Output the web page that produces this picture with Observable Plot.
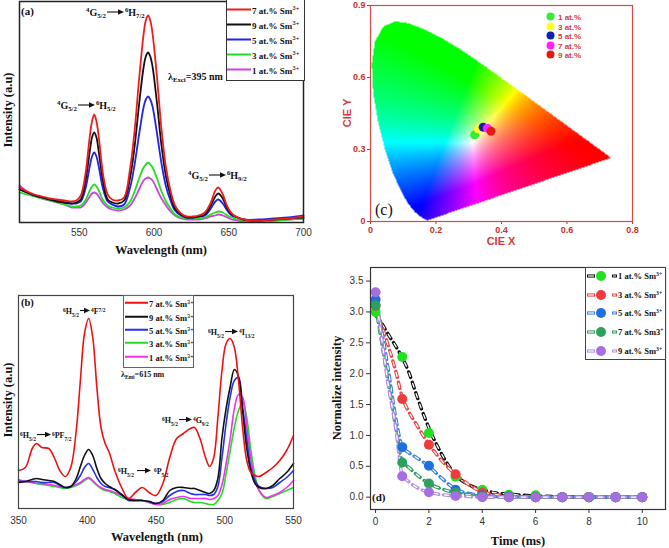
<!DOCTYPE html>
<html><head><meta charset="utf-8">
<script src="https://cdn.jsdelivr.net/npm/d3@7"></script>
<script src="https://cdn.jsdelivr.net/npm/@observablehq/plot@0.6"></script>
<style>
body{margin:0;background:#fff}
#root{position:relative;width:669px;height:548px;overflow:hidden;background:#fff}
.t{position:absolute;white-space:nowrap;transform:translateY(-50%);line-height:1;font-family:"Liberation Serif","Times New Roman",serif;font-weight:bold;color:#111}
.c{transform:translate(-50%,-50%)}
.rot{transform:translate(-50%,-50%) rotate(-90deg)}
.sans{font-family:"Liberation Sans",Arial,sans-serif}
sup,sub{font-size:68%;line-height:0;position:relative;vertical-align:baseline}
sup{top:-0.6em} sub{top:0.35em}
.box{position:absolute;border:1px solid #333;background:#fff}
</style></head>
<body><div id="root"></div>
<script>
// ---------- Panel (a): emission spectra, λex = 395 nm ----------
const waveA = [510,515,520,525,530,535,540,545,548,551,554,557,558.5,560,561.5,563,566,569,572,576,580,584,587,590,593,594.5,596,597.5,599,602,605,608,611,614,618,622,626,630,634,638,641,643,646,649,652,656,660,670,680,690,700];
const a7 = [35,31,28,26,24,23,22,21,22,27,47,86,101,108,101,86,47,28,23,22,25,54,92,143,188,202,207,202,189,145,93,55,32,17,9,6,6,7,10,20,32,35,28,16,9,5,3,2,3,4,6];
const a9 = [33,30,27,25,23,21,20,19,20,23,40,71,85,90,85,71,40,23,20,19,22,45,76,118,155,166,170,166,156,119,77,46,27,14,8,5,5,6,8,17,26,29,24,14,8,5,3,2,3,4,5];
const a5 = [33,30,27,25,23,22,20,19,19,21,33,56,66,70,66,56,33,21,18,16,18,35,58,88,115,123,126,123,116,89,59,36,22,12,7,5,5,6,7,14,21,23,19,12,7,5,3,3,4,5,7];
const a3 = [30,28,26,24,22,20,18,16,16,17,22,32,36,38,36,32,22,17,15,14,15,21,31,44,55,58,60,58,55,44,31,21,14,8,5,4,4,4,5,8,10,11,10,7,5,3,2,1,2,3,4];
const a1 = [37,31,27,24,22,20,18,15,15,15,19,26,29,30,29,26,19,15,13,12,13,17,24,33,42,44,45,44,42,33,24,17,11,7,4,3,3,3,4,6,7,8,7,5,3,2,1,1,2,3,4];
const ticksA = [550,600,650,700];

// ---------- Panel (b): excitation spectra, λem = 615 nm ----------
const waveB = [350,355,360,363,367,372,376,380,384,388,392,395,398,401,404,407,410,413,416,420,425,430,435,440,445,450,455,460,465,470,475,478,482,486,489,492,495,498,501,504,507,510,513,516,519,522,525,530,535,540,545,550];
const b7 = [38,41,60,65,61,60,51,38,32,41,78,128,175,190,171,121,81,65,56,38,21,10,16,21,16,13,25,51,70,75,80,81,70,51,42,51,91,138,165,170,161,128,81,48,36,33,32,36,41,48,58,73];
const b9 = [26,27,29,30,29,28,27,24,21,22,30,42,53,59,53,40,30,25,22,19,14,9,8,8,7,5,8,18,21,21,20,20,18,16,15,18,30,71,100,122,139,132,97,60,37,25,21,20,23,30,36,45];
const b5 = [27,27,27,27,26,26,26,23,21,22,27,33,41,45,39,31,25,22,21,19,14,8,8,8,7,5,7,13,17,18,15,14,14,14,13,14,22,51,85,112,128,131,102,70,41,28,22,20,21,26,31,38];
const b3 = [29,27,26,25,24,23,22,21,20,21,23,25,28,30,27,23,20,18,17,15,11,9,8,8,6,4,4,6,9,10,7,6,6,5,4,4,8,15,35,58,81,98,106,91,58,33,18,10,12,15,18,21];
const b1 = [28,27,26,25,25,24,23,22,21,22,24,26,29,31,28,24,21,19,18,16,13,10,9,8,6,4,5,9,11,12,10,10,10,10,9,10,13,24,45,70,100,114,111,82,50,28,18,11,13,16,21,28];
const ticksB = [350,400,450,500,550];

// ---------- Panel (c): CIE 1931 chromaticity ----------
const locusX = [0.1741,0.1738,0.1733,0.1726,0.1714,0.1689,0.1644,0.1566,0.1440,0.1355,0.1241,0.1096,0.0913,0.0687,0.0454,0.0235,0.0082,0.0039,0.0139,0.0389,0.0743,0.1142,0.1547,0.1929,0.2296,0.2658,0.3016,0.3373,0.3731,0.4087,0.4441,0.4788,0.5125,0.5448,0.5752,0.6029,0.6270,0.6658,0.6915,0.7079,0.7190,0.7260,0.7300,0.7334,0.7347];
const locusY = [0.0050,0.0049,0.0048,0.0048,0.0051,0.0069,0.0109,0.0177,0.0297,0.0399,0.0578,0.0868,0.1327,0.2007,0.2950,0.4127,0.5384,0.6548,0.7502,0.8120,0.8338,0.8262,0.8059,0.7816,0.7543,0.7243,0.6923,0.6589,0.6245,0.5896,0.5547,0.5202,0.4866,0.4544,0.4242,0.3965,0.3725,0.3340,0.3083,0.2920,0.2809,0.2740,0.2700,0.2666,0.2653];
const cieLabels = ["1 at.%","3 at.%","5 at.%","7 at.%","9 at.%"];
const cieX = [0.318,0.329,0.344,0.357,0.368];
const cieY = [0.361,0.386,0.393,0.389,0.376];
const ticksCX = [0,0.2,0.4,0.6,0.8];
const ticksCY = [0,0.3,0.6,0.9];

// ---------- Panel (d): decay curves ----------
const timeD = [0,1,2,3,4,5,6,7,8,9,10];
const d1 = [3.00,2.27,1.04,0.33,0.12,0.04,0.03,0,0,0,0];
const d3 = [3.10,1.59,0.85,0.37,0.07,0.01,0,0,0,0,0];
const d5 = [3.20,0.81,0.51,0.12,0.03,0.01,0,0,0,0,0];
const d7 = [3.11,0.56,0.22,0.07,0.01,0,0,0,0,0,0];
const d9 = [3.32,0.34,0.08,0.02,0,0,0,0,0,0,0];
const timeFit = [0,0.25,0.5,0.75,1,1.25,1.5,2,2.5,3,3.5,4,4.5,5,6,7,8,9,10];
const f1 = [2.95,2.80,2.62,2.45,2.26,2.02,1.70,1.12,0.68,0.36,0.20,0.12,0.07,0.05,0.02,0.01,0,0,0];
const f3 = [3.05,2.75,2.42,2.05,1.62,1.38,1.20,0.86,0.58,0.37,0.20,0.09,0.04,0.02,0,0,0,0,0];
const f5 = [3.20,2.65,2.00,1.30,0.82,0.72,0.65,0.50,0.30,0.13,0.06,0.03,0.01,0,0,0,0,0,0];
const f7 = [3.10,2.45,1.80,1.15,0.58,0.48,0.38,0.22,0.13,0.07,0.04,0.01,0,0,0,0,0,0,0];
const f9 = [3.30,2.50,1.75,1.15,0.36,0.25,0.17,0.08,0.04,0.02,0.01,0,0,0,0,0,0,0,0];
const ticksDX = [0,2,4,6,8,10];
const ticksDY = [0,0.5,1,1.5,2,2.5,3,3.5];

const legendNames = ["7 at.% Sm","9 at.% Sm","5 at.% Sm","3 at.% Sm","1 at.% Sm"];
const decayNames = ["1 at.% Sm","3 at.% Sm","5 at.% Sm","7 at.% Sm3","9 at.% Sm"];

// ================= rendering =================
const root = document.getElementById("root");
function put(html, x, y, cls = "", style = "") {
  const d = document.createElement("div");
  d.className = "t " + cls;
  d.style.cssText = `left:${x}px;top:${y}px;${style}`;
  d.innerHTML = html;
  root.appendChild(d);
  return d;
}
function place(svg, x, y) {
  svg.style.position = "absolute";
  svg.style.left = x + "px";
  svg.style.top = y + "px";
  root.appendChild(svg);
}
const arrow = (w) => `<svg width="${w}" height="6" style="vertical-align:0.12em;margin:0 1px;overflow:visible"><line x1="0" y1="3" x2="${w-4}" y2="3" stroke="#111" stroke-width="1.1"/><path d="M${w-6},0.3L${w},3L${w-6},5.7Z" fill="#111"/></svg>`;
const tbl = (xs, ys) => xs.map((x, i) => ({x, y: ys[i]}));
const tickStyle = {fontFamily: "'Liberation Sans',Arial,sans-serif", fontSize: "10px", color: "#333", background: "transparent", overflow: "visible"};

// ---- (a)
const colA = {a7: "#ee1c1c", a9: "#111111", a5: "#2222ee", a3: "#22dd22", a1: "#cc44dd"};
const plotA = Plot.plot({
  width: 330, height: 262, marginTop: 1, marginLeft: 19, marginRight: 27, marginBottom: 40,
  x: {domain: [510, 700], ticks: ticksA, tickSize: 0, tickPadding: 6, label: null},
  y: {domain: [0, 221], axis: null},
  style: tickStyle,
  marks: [
    Plot.line(tbl(waveA, a1), {x: "x", y: "y", stroke: colA.a1, strokeWidth: 1.8, curve: "catmull-rom"}),
    Plot.line(tbl(waveA, a3), {x: "x", y: "y", stroke: colA.a3, strokeWidth: 1.8, curve: "catmull-rom"}),
    Plot.line(tbl(waveA, a5), {x: "x", y: "y", stroke: colA.a5, strokeWidth: 1.8, curve: "catmull-rom"}),
    Plot.line(tbl(waveA, a9), {x: "x", y: "y", stroke: colA.a9, strokeWidth: 1.8, curve: "catmull-rom"}),
    Plot.line(tbl(waveA, a7), {x: "x", y: "y", stroke: colA.a7, strokeWidth: 1.8, curve: "catmull-rom"}),
    Plot.frame({stroke: "#222", strokeWidth: 1.5})
  ]
});
place(plotA, 0, 0);

// ---- (b)
const colB = {b7: "#ee1111", b9: "#111111", b5: "#2233ee", b3: "#22dd22", b1: "#ee33ee"};
const plotB = Plot.plot({
  width: 330, height: 278, marginTop: 25, marginLeft: 18, marginRight: 37, marginBottom: 40,
  x: {domain: [350, 550], ticks: ticksB, tickSize: 0, tickPadding: 8, label: null},
  y: {domain: [0, 213], axis: null},
  style: tickStyle,
  marks: [
    Plot.line(tbl(waveB, b3), {x: "x", y: "y", stroke: colB.b3, strokeWidth: 1.6, curve: "catmull-rom"}),
    Plot.line(tbl(waveB, b1), {x: "x", y: "y", stroke: colB.b1, strokeWidth: 1.6, curve: "catmull-rom"}),
    Plot.line(tbl(waveB, b5), {x: "x", y: "y", stroke: colB.b5, strokeWidth: 1.6, curve: "catmull-rom"}),
    Plot.line(tbl(waveB, b9), {x: "x", y: "y", stroke: colB.b9, strokeWidth: 1.6, curve: "catmull-rom"}),
    Plot.line(tbl(waveB, b7), {x: "x", y: "y", stroke: colB.b7, strokeWidth: 1.6, curve: "catmull-rom"}),
    Plot.frame({stroke: "#444", strokeWidth: 1.2})
  ]
});
place(plotB, 0, 270);

// ---- (c)
const locus = locusX.map((x, i) => [x, locusY[i]]);
function inside(pt, poly) {
  const [px, py] = pt;
  let c = false;
  for (let i = 0, j = poly.length - 1; i < poly.length; j = i++) {
    const [xi, yi] = poly[i], [xj, yj] = poly[j];
    if ((yi > py) !== (yj > py) && px < (xj - xi) * (py - yi) / (yj - yi) + xi) c = !c;
  }
  return c;
}
function cieColor(x, y) {
  if (!inside([x, y], locus)) return null;
  const X = x / y, Y = 1, Z = (1 - x - y) / y;
  let r = 3.2406 * X - 1.5372 * Y - 0.4986 * Z;
  let g = -0.9689 * X + 1.8758 * Y + 0.0415 * Z;
  let b = 0.0557 * X - 0.2040 * Y + 1.0570 * Z;
  r = Math.max(0, r); g = Math.max(0, g); b = Math.max(0, b);
  const m = Math.max(r, g, b) || 1;
  const enc = c => { c = Math.pow(c / m, 1.9); return Math.round(255 * (c <= 0.0031308 ? 12.92 * c : 1.055 * Math.pow(c, 1 / 2.4) - 0.055)); };
  return `rgb(${enc(r)},${enc(g)},${enc(b)})`;
}
const cieDotColor = ["#33ee33", "#ffff22", "#1020b0", "#ff22ff", "#e81818"];
const cieTable = cieLabels.map((k, i) => ({k, x: cieX[i], y: cieY[i], c: cieDotColor[i]}));
const fmtC = d => d === 0 ? "0" : d.toFixed(1);
const plotC = Plot.plot({
  width: 339, height: 262, marginTop: 5, marginLeft: 40, marginRight: 37, marginBottom: 41,
  color: {type: "identity"},
  x: {domain: [0, 0.8], ticks: ticksCX, tickFormat: fmtC, tickSize: 3, tickPadding: 2, label: null},
  y: {domain: [0, 0.9], ticks: ticksCY, tickFormat: fmtC, tickSize: 3, tickPadding: 2, label: null},
  style: {fontFamily: "'Liberation Sans',Arial,sans-serif", fontSize: "9px", fontWeight: "bold", color: "#c8302c", background: "transparent", overflow: "visible"},
  marks: [
    Plot.raster({x1: 0, y1: 0, x2: 0.8, y2: 0.9, fill: cieColor, pixelSize: 1}),
    Plot.frame({stroke: "#d44a45", strokeWidth: 1.2}),
    Plot.dot(cieTable, {x: "x", y: "y", fill: "c", r: 4.5})
  ]
});
place(plotC, 330, 0);

// ---- (d)
const colLine = ["#111111", "#ee4444", "#3a80e0", "#2f9a5a", "#b08ce6"];
const colDot = ["#22e022", "#ee3b3b", "#1f6fe0", "#2ca05e", "#a66ee0"];
const decays = [d1, d3, d5, d7, d9];
const fits = [f1, f3, f5, f7, f9];
const lineMarks = [];
fits.forEach((f, i) => {
  lineMarks.push(Plot.line(tbl(timeFit, f), {x: "x", y: "y", stroke: colLine[i], strokeWidth: 3.4, strokeDasharray: "6,5", curve: "monotone-x"}));
  lineMarks.push(Plot.line(tbl(timeFit, f), {x: "x", y: "y", stroke: "#fff", strokeWidth: 1.3, strokeDasharray: "4,7", strokeDashoffset: -1, curve: "monotone-x"}));
});
const dotMarks = decays.map((d, i) => Plot.dot(tbl(timeD, d), {x: "x", y: "y", fill: colDot[i], r: 5}));
const plotD = Plot.plot({
  width: 339, height: 286, marginTop: 5, marginLeft: 40, marginRight: 4, marginBottom: 39,
  x: {domain: [-0.19, 10.87], ticks: ticksDX, tickSize: 4, tickPadding: 4, label: null},
  y: {domain: [-0.2, 3.72], ticks: ticksDY, tickFormat: d => d.toFixed(1), tickSize: 4, tickPadding: 3, label: null},
  style: tickStyle,
  marks: [...lineMarks, ...dotMarks, Plot.frame({stroke: "#333", strokeWidth: 1.2})]
});
place(plotD, 330, 262);

// ================= text: titles, annotations, legends =================
// (a)
put("(a)", 21, 11, "", "font-size:11px");
put(`<sup>4</sup>G<sub>5/2</sub>${arrow(17)}<sup>6</sup>H<sub>7/2</sub>`, 86, 13, "", "font-size:10px");
put(`<sup>4</sup>G<sub>5/2</sub>${arrow(17)}<sup>6</sup>H<sub>5/2</sub>`, 57, 106, "", "font-size:10px");
put(`<sup>4</sup>G<sub>5/2</sub>${arrow(17)}<sup>6</sup>H<sub>9/2</sub>`, 188, 176, "", "font-size:10px");
put(`λ<sub>Exci</sub>=395 nm`, 168, 77, "", "font-size:10px");
put("Wavelength (nm)", 161, 250, "c", "font-size:12.5px");
put("Intensity (a.u)", 8, 110, "rot", "font-size:12.5px");
{
  const bx = document.createElement("div");
  bx.className = "box";
  bx.style.cssText = "left:226px;top:-1px;width:77px;height:80px;";
  root.appendChild(bx);
  const cols = [colA.a7, colA.a9, colA.a5, colA.a3, colA.a1];
  const ys = [11, 26, 41, 56, 71];
  legendNames.forEach((n, i) => {
    put(`<svg width="24" height="4" style="vertical-align:0.2em;margin-right:1px"><line x1="0" y1="2" x2="24" y2="2" stroke="${cols[i]}" stroke-width="2"/></svg>${n}<sup class="sans" style="font-weight:normal">3+</sup>`, 227, ys[i], "", "font-size:9px");
  });
}
// (b)
put("(b)", 21, 303, "", "font-size:10.5px");
put(`<sup>6</sup>H<sub>5/2</sub>${arrow(10)}<sup>4</sup>F<sup>7/2</sup>`, 63, 312, "", "font-size:8px");
put(`<sup>6</sup>H<sub>5/2</sub>${arrow(14)}<sup>6</sup>PF<sub>7/2</sub>`, 20, 436, "", "font-size:8px");
put(`<sup>6</sup>H<sub>5/2</sub> ${arrow(14)} <sup>6</sup>P<sub>5/2</sub>`, 118, 472, "", "font-size:8px");
put(`<sup>6</sup>H<sub>5/2</sub>${arrow(13)}<sup>4</sup>G<sub>9/2</sub>`, 162, 421, "", "font-size:8px");
put(`<sup>6</sup>H<sub>5/2</sub>${arrow(13)}<sup>4</sup>I<sub>13/2</sub>`, 208, 333, "", "font-size:8px");
put(`λ<sub>Emi</sub>=615 nm`, 121, 375, "", "font-size:8px");
put("Wavelength (nm)", 157, 537, "c", "font-size:12.5px");
put("Intensity (a.u)", 8, 400, "rot", "font-size:12.5px");
{
  const bx = document.createElement("div");
  bx.className = "box";
  bx.style.cssText = "left:123px;top:295px;width:69px;height:71px;border-color:#666";
  root.appendChild(bx);
  const cols = [colB.b7, colB.b9, colB.b5, colB.b3, colB.b1];
  const ys = [304, 318, 331, 344, 358];
  legendNames.forEach((n, i) => {
    put(`<svg width="23" height="4" style="vertical-align:0.2em;margin-right:1px"><line x1="0" y1="2" x2="23" y2="2" stroke="${cols[i]}" stroke-width="2"/></svg>${n}<sup class="sans" style="font-weight:normal">3+</sup>`, 125, ys[i], "", "font-size:8.5px");
  });
}
// (c)
put("(c)", 375, 210, "", "font-size:16px;font-weight:normal");
put("CIE X", 501, 241, "c sans", "font-size:11px;color:#d43a3a");
put("CIE Y", 347, 113, "rot sans", "font-size:11px;color:#d43a3a");
{
  const ys = [17, 27, 36, 46, 55];
  cieLabels.forEach((n, i) => {
    put(`<svg width="9" height="9" style="vertical-align:-0.1em;margin-right:3px"><circle cx="4.5" cy="4.5" r="4" fill="${cieDotColor[i]}"/></svg>${n}`, 546, ys[i], "sans", "font-size:8px;color:#d43a3a");
  });
}
// (d)
put("(d)", 372, 497, "", "font-size:11px");
put("Time (ms)", 518, 541, "c", "font-size:12.5px");
put("Normalize intensity", 337, 388, "rot", "font-size:12.5px");
{
  const bx = document.createElement("div");
  bx.className = "box";
  bx.style.cssText = "left:585px;top:267px;width:79px;height:91px;border-color:#444";
  root.appendChild(bx);
  const ys = [276, 295, 313, 332, 351];
  decayNames.forEach((n, i) => {
    const sw = `<svg width="32" height="12" style="vertical-align:-0.35em"><line x1="1" y1="6" x2="9" y2="6" stroke="${colLine[i]}" stroke-width="3.2"/><line x1="2" y1="6" x2="8" y2="6" stroke="#fff" stroke-width="1.2"/><circle cx="15" cy="6" r="5" fill="${colDot[i]}"/><line x1="26" y1="6" x2="31" y2="6" stroke="${colLine[i]}" stroke-width="3"/><line x1="27" y1="6" x2="30" y2="6" stroke="#fff" stroke-width="1"/></svg>`;
    const sup = i === 3 ? "+" : "3+";
    put(`${sw}${n}<sup>${sup}</sup>`, 586, ys[i], "", "font-size:8.5px");
  });
}
</script>
</body></html>
